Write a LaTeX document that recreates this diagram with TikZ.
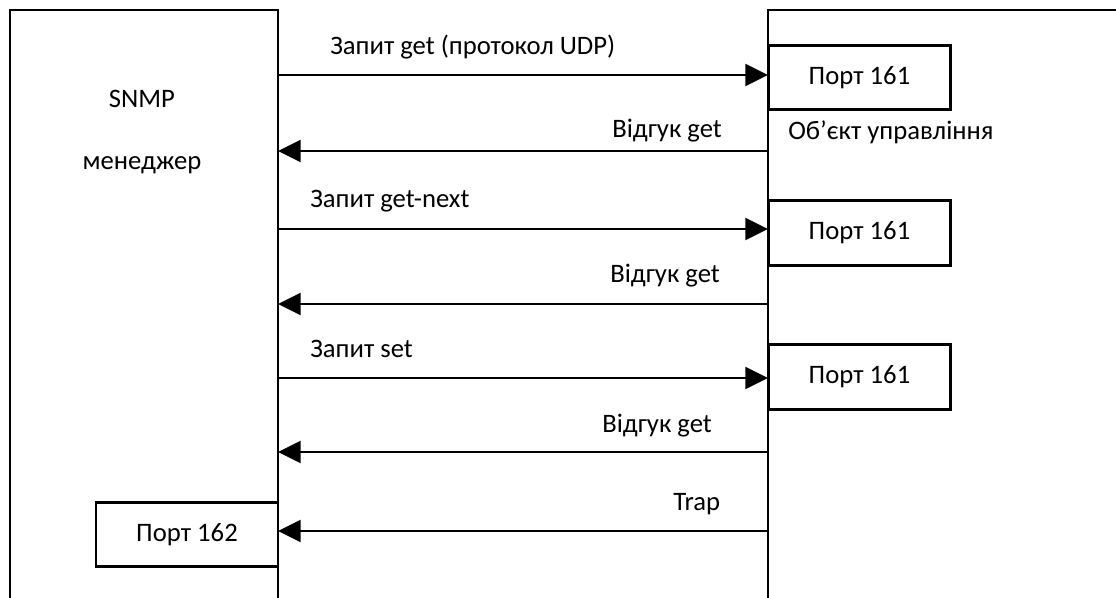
\documentclass[tikz,border=0pt]{standalone}
\usepackage{fontspec}
\setmainfont{Carlito}
\usetikzlibrary{arrows.meta}

\begin{document}
\begin{tikzpicture}[x=0.75pt, y=-0.75pt,
  every node/.style={font=\fontsize{20pt}{24pt}\selectfont, inner sep=0pt},
  lifeline/.style={line width=2.2pt, line cap=rect},
  portbox/.style={draw, line width=2.2pt, fill=white, minimum width=137pt, minimum height=48.5pt},
  msg/.style={line width=1.5pt, -{Triangle[length=17pt, width=16.5pt]}},
  msglabel/.style={anchor=base west}
]
\useasboundingbox (0,0) rectangle (1116,598);

% lifelines drawn as open boxes
\coordinate (mgrBL) at (10,600);
\coordinate (mgrTL) at (10,10);
\coordinate (mgrTR) at (278,10);
\coordinate (mgrBR) at (278,600);
\coordinate (agtB) at (768,600);
\coordinate (agtT) at (768,10);
\coordinate (agtTR) at (1118,10);
\draw[lifeline] (mgrBL) -- (mgrTL) -- (mgrTR) -- (mgrBR);
\draw[lifeline] (agtB) -- (agtT) -- (agtTR);

% manager caption
\node[anchor=base] (snmp) at (142,108) {SNMP};
\node[anchor=base] (mgr) at (142,170) {менеджер};

% agent ports
\node[portbox] (p1) at (859.5,77.5) {Порт 161};
\node[portbox] (p2) at (859.5,233) {Порт 161};
\node[portbox] (p3) at (859.5,377) {Порт 161};
\node[portbox, minimum width=136.5pt] (p4) at (187,534.5) {Порт 162};
\node[msglabel] (obj) at (788,140) {Об’єкт управління};

% message end points on the lifelines
\coordinate (m1) at (278,75);   \coordinate (a1) at (768,75);
\coordinate (m2) at (278,151);  \coordinate (a2) at (768,151);
\coordinate (m3) at (278,229);  \coordinate (a3) at (768,229);
\coordinate (m4) at (278,304);  \coordinate (a4) at (768,304);
\coordinate (m5) at (278,378);  \coordinate (a5) at (768,378);
\coordinate (m6) at (278,452);  \coordinate (a6) at (768,452);
\coordinate (m7) at (278,531);  \coordinate (a7) at (768,531);

\draw[msg] (m1) -- (a1);
\draw[msg] (a2) -- (m2);
\draw[msg] (m3) -- (a3);
\draw[msg] (a4) -- (m4);
\draw[msg] (m5) -- (a5);
\draw[msg] (a6) -- (m6);
\draw[msg] (a7) -- (m7);

% message labels
\node[msglabel] (l1) at (330,55) {Запит get (протокол UDP)};
\node[msglabel] (l2) at (612,138) {Відгук get};
\node[msglabel] (l3) at (310,208) {Запит get-next};
\node[msglabel] (l4) at (610,283) {Відгук get};
\node[msglabel] (l5) at (310,357) {Запит set};
\node[msglabel] (l6) at (602,432) {Відгук get};
\node[msglabel] (l7) at (673,510) {Trap};
\end{tikzpicture}
\end{document}
